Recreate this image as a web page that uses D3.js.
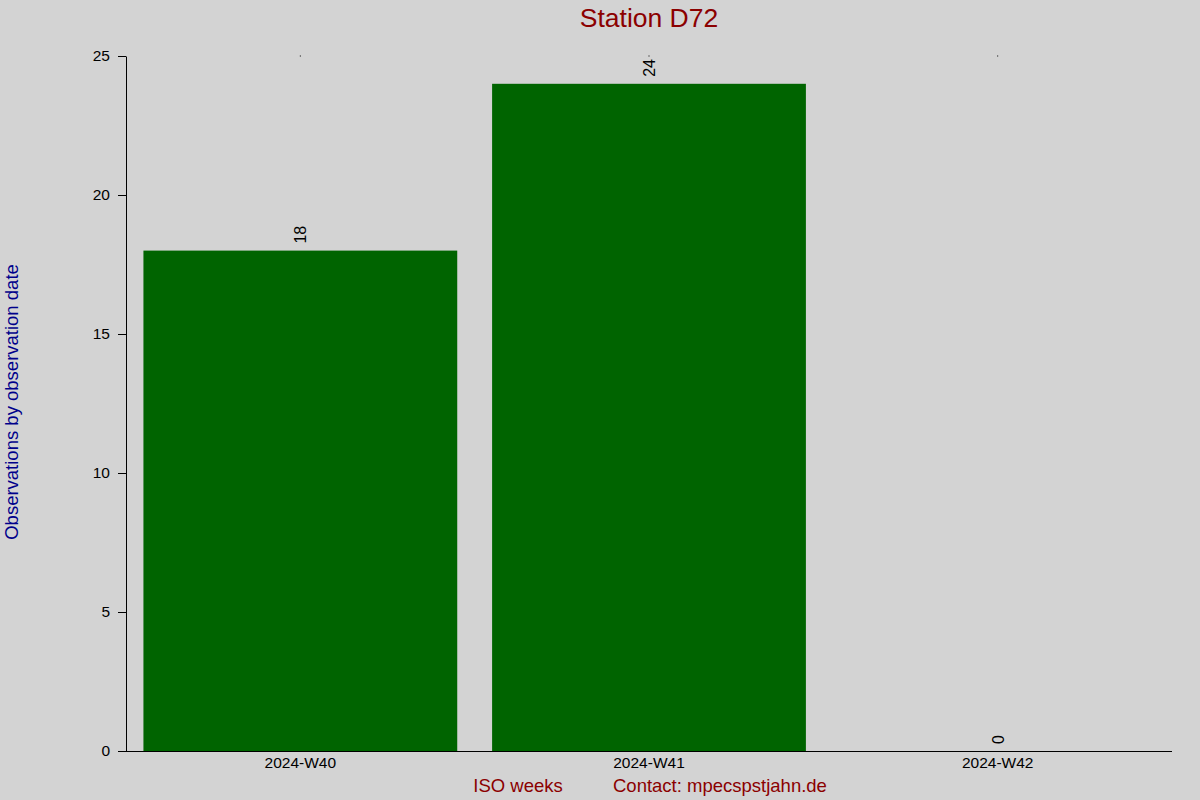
<!DOCTYPE html>
<html>
<head>
<meta charset="utf-8">
<script src="https://cdn.jsdelivr.net/npm/d3@7"></script>
<style>
  body { margin: 0; background: #d3d3d3; }
  text { font-family: "Liberation Sans", Arial, sans-serif; }
</style>
</head>
<body>
<script>
const weeks = ['2024-W40', '2024-W41', '2024-W42'];
const counts = [18, 24, 0];
const yTicks = [0, 5, 10, 15, 20, 25];

const width = 1200, height = 800;
const margin = { top: 56, right: 28, bottom: 49, left: 126 };

const svg = d3.select('body').append('svg')
  .attr('width', width)
  .attr('height', height)
  .style('background', '#d3d3d3');

const x = d3.scaleBand()
  .domain(weeks)
  .range([margin.left, width - margin.right])
  .paddingInner(0.1)
  .paddingOuter(0.05);

const y = d3.scaleLinear()
  .domain([0, 25])
  .range([height - margin.bottom, margin.top]);

// bars
svg.append('g')
  .selectAll('rect')
  .data(counts)
  .enter().append('rect')
  .attr('x', (d, i) => x(weeks[i]))
  .attr('y', d => y(d))
  .attr('width', x.bandwidth())
  .attr('height', d => y(0) - y(d))
  .attr('fill', '#006400');

// value labels
svg.append('g')
  .selectAll('text')
  .data(counts)
  .enter().append('text')
  .attr('transform', (d, i) => 'translate(' + (x(weeks[i]) + x.bandwidth() / 2 + 6) + ',' + (y(d) - 7) + ')rotate(-90)')
  .attr('font-size', 16)
  .attr('fill', '#000')
  .text(d => d);

// little marks at the top of each column
svg.append('g')
  .selectAll('rect')
  .data(weeks)
  .enter().append('rect')
  .attr('x', d => x(d) + x.bandwidth() / 2 - 0.5)
  .attr('y', y(25) - 0.5)
  .attr('width', 1)
  .attr('height', 1)
  .attr('fill', '#000');

// y axis
const yAxis = svg.append('g')
  .attr('transform', 'translate(' + margin.left + ',0)')
  .call(d3.axisLeft(y).tickValues(yTicks).tickSize(8).tickPadding(8).tickSizeOuter(0));
yAxis.select('.domain').attr('stroke', '#000');
yAxis.selectAll('.tick line').attr('stroke', '#000');
yAxis.selectAll('.tick text')
  .attr('font-size', 15.5)
  .attr('font-family', '"Liberation Sans", Arial, sans-serif')
  .attr('fill', '#000');

// x axis
const xAxis = svg.append('g')
  .attr('transform', 'translate(0,' + y(0) + ')')
  .call(d3.axisBottom(x).tickSize(0).tickPadding(6).tickSizeOuter(0));
xAxis.select('.domain').attr('stroke', '#000')
  .attr('d', 'M' + margin.left + ',0.5H' + (width - margin.right));
xAxis.selectAll('.tick text')
  .attr('font-size', 15.5)
  .attr('font-family', '"Liberation Sans", Arial, sans-serif')
  .attr('fill', '#000');

// title
svg.append('text')
  .attr('x', 649)
  .attr('y', 27)
  .attr('text-anchor', 'middle')
  .attr('font-size', 26.5)
  .attr('fill', '#8b0000')
  .text('Station D72');

// axis titles
svg.append('text')
  .attr('transform', 'translate(18,' + 402 + ')rotate(-90)')
  .attr('text-anchor', 'middle')
  .attr('font-size', 18.5)
  .attr('fill', '#00008b')
  .text('Observations by observation date');

svg.append('text')
  .attr('x', 518)
  .attr('y', 792)
  .attr('text-anchor', 'middle')
  .attr('font-size', 18.5)
  .attr('fill', '#8b0000')
  .text('ISO weeks');

svg.append('text')
  .attr('x', 613)
  .attr('y', 792)
  .attr('font-size', 18.5)
  .attr('fill', '#8b0000')
  .text('Contact: mpecspstjahn.de');
</script>
</body>
</html>
